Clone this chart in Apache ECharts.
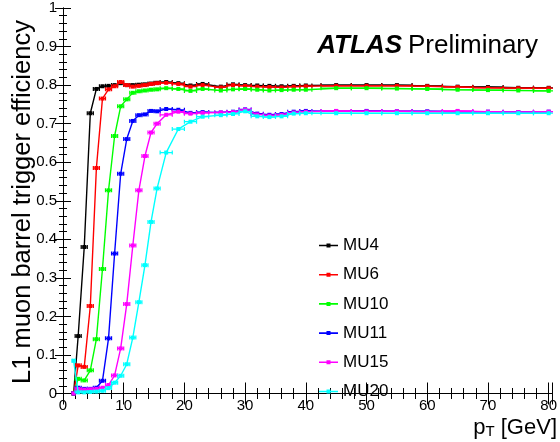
<!DOCTYPE html>
<html>
<head>
<meta charset="utf-8">
<script src="https://cdn.jsdelivr.net/npm/echarts@6/dist/echarts.min.js"></script>
<style>
html, body { margin: 0; padding: 0; background: #fff; }
#chart { width: 560px; height: 442px; }
</style>
</head>
<body>
<div id="chart"></div>
<script>
// bin centres and half widths (GeV)
var pt = [1.75, 2.5, 3.5, 4.5, 5.5, 6.5, 7.5, 8.5, 9.5, 10.5, 11.5, 12.5, 13.5, 14.5, 15.5,
  17, 19, 21, 23, 26, 28, 30, 32, 34, 36, 38, 40, 45, 50, 55, 60, 65, 70, 75, 80];
var ptHalf = [0.25, 0.5, 0.5, 0.5, 0.5, 0.5, 0.5, 0.5, 0.5, 0.5, 0.5, 0.5, 0.5, 0.5, 0.5,
  1, 1, 1, 1, 1, 1, 1, 1, 1, 1, 1, 1, 2.5, 2.5, 2.5, 2.5, 2.5, 2.5, 2.5, 2.5];

var mu4 = [0.0, 0.149, 0.38, 0.727, 0.790, 0.797, 0.798, 0.800, 0.805, 0.800, 0.800, 0.801, 0.802, 0.804, 0.806,
  0.808, 0.805, 0.799, 0.803, 0.796, 0.802, 0.800, 0.799, 0.798, 0.797, 0.798, 0.799,
  0.800, 0.800, 0.800, 0.798, 0.796, 0.795, 0.793, 0.793];
var mu6 = [0.0, 0.073, 0.069, 0.227, 0.585, 0.765, 0.789, 0.797, 0.808, 0.800, 0.796, 0.798, 0.800, 0.803, 0.805,
  0.806, 0.803, 0.796, 0.800, 0.794, 0.800, 0.798, 0.796, 0.795, 0.794, 0.796, 0.797,
  0.798, 0.798, 0.798, 0.797, 0.795, 0.793, 0.792, 0.792];
var mu10 = [0.0, 0.038, 0.034, 0.060, 0.141, 0.323, 0.527, 0.668, 0.745, 0.763, 0.780, 0.784, 0.786, 0.788, 0.789,
  0.792, 0.790, 0.785, 0.790, 0.786, 0.789, 0.790, 0.788, 0.786, 0.787, 0.788, 0.788,
  0.792, 0.792, 0.791, 0.790, 0.788, 0.787, 0.786, 0.785];
var mu11 = [0.0, 0.015, 0.012, 0.012, 0.015, 0.033, 0.143, 0.363, 0.570, 0.660, 0.707, 0.722, 0.724, 0.733, 0.732,
  0.738, 0.736, 0.728, 0.730, 0.729, 0.731, 0.737, 0.726, 0.723, 0.725, 0.731, 0.733,
  0.732, 0.733, 0.732, 0.732, 0.731, 0.731, 0.730, 0.731];
var mu15 = [0.0, 0.012, 0.010, 0.011, 0.012, 0.015, 0.022, 0.047, 0.117, 0.232, 0.384, 0.527, 0.616, 0.677, 0.700,
  0.723, 0.731, 0.726, 0.728, 0.729, 0.730, 0.736, 0.724, 0.721, 0.723, 0.729, 0.731,
  0.733, 0.732, 0.732, 0.731, 0.733, 0.731, 0.730, 0.731];
var mu20 = [0.085, 0.003, 0.003, 0.004, 0.005, 0.007, 0.014, 0.028, 0.046, 0.076, 0.145, 0.237, 0.333, 0.445, 0.532,
  0.625, 0.686, 0.705, 0.718, 0.722, 0.725, 0.732, 0.719, 0.717, 0.719, 0.726, 0.727,
  0.727, 0.727, 0.727, 0.727, 0.727, 0.727, 0.727, 0.727];

var names = ['MU4', 'MU6', 'MU10', 'MU11', 'MU15', 'MU20'];
var values = [mu4, mu6, mu10, mu11, mu15, mu20];
var colors = ['#000000', '#ff0000', '#00ff00', '#0000ff', '#ff00ff', '#00ffff'];

var font = '"Liberation Sans", Arial, sans-serif';
// legend icon: line with a small marker in the middle
var legendIcon = 'path://M0,6.2 H19 V7.8 H0 Z M7.5,5 H11.5 V9 H7.5 Z';

function errorBars(color) {
  return function (params, api) {
    var x = api.value(0), y = api.value(1), hw = api.value(2);
    var l = api.coord([x - hw, y]);
    var r = api.coord([x + hw, y]);
    var st = { stroke: color, lineWidth: 1.2 };
    return {
      type: 'group',
      children: [
        { type: 'line', shape: { x1: l[0], y1: l[1], x2: r[0], y2: r[1] }, style: st },
        { type: 'line', shape: { x1: l[0], y1: l[1] - 2, x2: l[0], y2: l[1] + 2 }, style: st },
        { type: 'line', shape: { x1: r[0], y1: r[1] - 2, x2: r[0], y2: r[1] + 2 }, style: st }
      ]
    };
  };
}

var series = [];
var legendData = [];
for (var i = 0; i < names.length; i++) {
  var lineData = [], barData = [];
  for (var j = 0; j < pt.length; j++) {
    lineData.push([pt[j], values[i][j]]);
    barData.push([pt[j], values[i][j], ptHalf[j]]);
  }
  legendData.push({ name: names[i], icon: legendIcon });
  series.push({
    name: names[i],
    type: 'line',
    data: lineData,
    symbol: 'rect',
    symbolSize: 4,
    showAllSymbol: true,
    lineStyle: { color: colors[i], width: 1.4 },
    itemStyle: { color: colors[i] },
    z: 3 + i,
    clip: true
  });
  series.push({
    type: 'custom',
    data: barData,
    renderItem: errorBars(colors[i]),
    encode: { x: 0, y: 1 },
    z: 3 + i,
    clip: true,
    silent: true
  });
}

var options = {
  animation: false,
  backgroundColor: '#ffffff',
  grid: { left: 63, right: 3, top: 8, bottom: 48.5 },
  legend: {
    data: legendData,
    orient: 'vertical',
    left: 314,
    top: 232,
    itemWidth: 19,
    itemHeight: 14,
    itemGap: 12.2,
    textStyle: { fontFamily: font, fontSize: 17, color: '#000' }
  },
  xAxis: [{
    type: 'value',
    min: 0,
    max: 80.6,
    interval: 10,
    axisLine: { show: true, lineStyle: { color: '#000', width: 1 } },
    axisTick: { show: true, inside: true, length: 11, lineStyle: { color: '#000' } },
    minorTick: { show: true, splitNumber: 5, length: 5.5, lineStyle: { color: '#000' } },
    splitLine: { show: false },
    axisLabel: {
      margin: 5,
      fontFamily: font,
      fontSize: 15,
      color: '#000',
      formatter: function (v) { return v % 10 === 0 ? String(v) : ''; }
    }
  }, {
    type: 'value',
    position: 'top',
    min: 0,
    max: 80.6,
    interval: 10,
    axisLine: { show: true, lineStyle: { color: '#000', width: 1 } },
    axisTick: { show: true, inside: true, length: 11, lineStyle: { color: '#000' } },
    minorTick: { show: true, splitNumber: 5, length: 5.5, lineStyle: { color: '#000' } },
    splitLine: { show: false },
    axisLabel: { show: false }
  }],
  yAxis: [{
    type: 'value',
    min: 0,
    max: 1,
    interval: 0.1,
    axisLine: { show: true, lineStyle: { color: '#000', width: 1 } },
    axisTick: { show: true, inside: true, length: 8, lineStyle: { color: '#000' } },
    minorTick: { show: true, splitNumber: 5, length: 4, lineStyle: { color: '#000' } },
    splitLine: { show: false },
    axisLabel: { margin: 6, fontFamily: font, fontSize: 15, color: '#000' }
  }, {
    type: 'value',
    position: 'right',
    min: 0,
    max: 1,
    interval: 0.1,
    axisLine: { show: true, lineStyle: { color: '#000', width: 1 } },
    axisTick: { show: true, inside: true, length: 8, lineStyle: { color: '#000' } },
    minorTick: { show: true, splitNumber: 5, length: 4, lineStyle: { color: '#000' } },
    splitLine: { show: false },
    axisLabel: { show: false }
  }],
  graphic: [{
    type: 'text',
    x: 402, y: 46,
    style: { text: 'ATLAS', align: 'right', verticalAlign: 'middle',
      font: 'italic bold 26px ' + font, fill: '#000' }
  }, {
    type: 'text',
    x: 538, y: 46,
    style: { text: 'Preliminary', align: 'right', verticalAlign: 'middle',
      font: '26px ' + font, fill: '#000' }
  }, {
    type: 'text',
    x: 23, y: 202,
    rotation: Math.PI / 2,
    style: { text: 'L1 muon barrel trigger efficiency', align: 'center', verticalAlign: 'middle',
      font: '25.5px ' + font, fill: '#000' }
  }, {
    type: 'text',
    x: 557, y: 428,
    style: {
      text: '{a|p}{s|T}{a| [GeV]}',
      align: 'right', verticalAlign: 'middle',
      rich: {
        a: { fontFamily: font, fontSize: 22, fill: '#000' },
        s: { fontFamily: font, fontSize: 15, fill: '#000', padding: [8, 0, 0, 0] }
      }
    }
  }],
  series: series
};

var myChart = echarts.init(document.getElementById('chart'));
myChart.setOption(options);
</script>
</body>
</html>
